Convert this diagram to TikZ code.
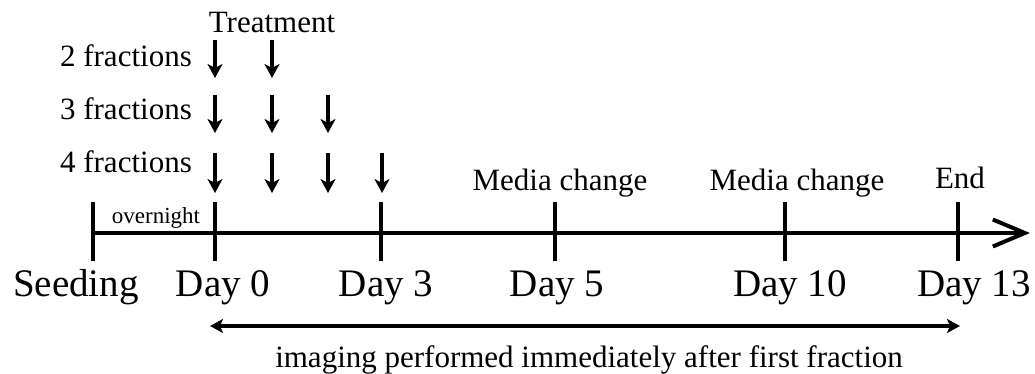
\documentclass[tikz,border=0pt]{standalone}
\usepackage{fontspec}
\setmainfont{Liberation Serif}
\usetikzlibrary{arrows.meta}
\tikzset{
  txt/.style = {font=\fontsize{31}{36}\selectfont, inner sep=0pt, anchor=base},
  daytxt/.style = {font=\fontsize{39}{44}\selectfont, inner sep=0pt, anchor=base},
  smalltxt/.style = {font=\fontsize{23}{27}\selectfont, inner sep=0pt, anchor=base},
  daytick/.style = {line width=3.3pt},
  dose/.style = {line width=3.8pt, -{Stealth[length=14pt, width=15pt, inset=4pt]}}
}
\begin{document}
\begin{tikzpicture}[x = 1pt, y = -1pt]
\useasboundingbox (0, 0) rectangle (1035, 374);
% time axis
\coordinate (seed) at (93, 233);
\coordinate (tip) at (1030, 233);
\draw[line width = 4pt, -{Straight Barb[length=32pt, width=27pt]}] (seed) -- (tip);
\foreach \x/\n in {93/s, 215/d0, 381/d3, 555/d5, 785/d10, 958/d13}{\coordinate (top\n) at (\x, 202); \coordinate (bot\n) at (\x, 261); \draw[daytick] (top\n) -- (bot\n);}
\node[daytxt] (seeding) at (76, 296) {Seeding};
\node[daytxt] (day0) at (223, 296) {Day 0};
\node[daytxt] (day3) at (386, 296) {Day 3};
\node[daytxt] (day5) at (557, 296) {Day 5};
\node[daytxt] (day10) at (790, 296) {Day 10};
\node[daytxt] (day13) at (974, 296) {Day 13};
\node[smalltxt] (overnight) at (156, 223) {overnight};
\node[txt] (media1) at (560, 190) {Media change};
\node[txt] (media2) at (797, 190) {Media change};
\node[txt] (end) at (960, 189) {End};
% treatment schedule
\node[txt] (treat) at (272, 33) {Treatment};
\node[txt, anchor = base east] (frac2) at (192, 67) {2 fractions};
\node[txt, anchor = base east] (frac3) at (192, 120) {3 fractions};
\node[txt, anchor = base east] (frac4) at (192, 173) {4 fractions};
\foreach \x in {215, 272}{\draw[dose] (\x, 40) -- (\x, 78);}
\foreach \x in {215, 272, 328}{\draw[dose] (\x, 95) -- (\x, 133);}
\foreach \x in {215, 272, 328, 382}{\draw[dose] (\x, 153) -- (\x, 193);}
% imaging span
\coordinate (img0) at (210, 326);
\coordinate (img1) at (960, 326);
\draw[line width = 3.3pt, {Stealth[length=13pt, width=14pt, inset=3pt]}-{Stealth[length=13pt, width=14pt, inset=3pt]}] (img0) -- (img1);
\node[txt] (imaging) at (589, 367) {imaging performed immediately after first fraction};
\end{tikzpicture}
\end{document}
